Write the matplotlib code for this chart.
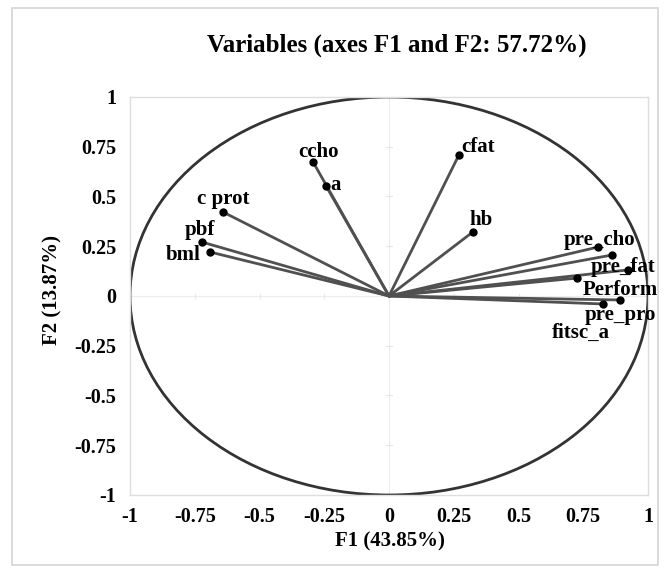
import numpy as np
import matplotlib
matplotlib.use("Agg")
import matplotlib.pyplot as plt
from matplotlib.patches import Ellipse, Rectangle

# Variable loadings on F1 / F2
variables = ["ccho", "a", "c prot", "pbf", "bml", "cfat", "hb",
             "pre_cho", "", "pre_fat", "Perform", "pre_pro", "fitsc_a"]
f1 = [-0.293, -0.243, -0.641, -0.722, -0.691, 0.270, 0.324,
      0.807, 0.861, 0.923, 0.726, 0.892, 0.826]
f2 = [0.673, 0.553, 0.422, 0.271, 0.221, 0.709, 0.322,
      0.246, 0.206, 0.131, 0.090, -0.020, -0.040]

ticks = [-1, -0.75, -0.5, -0.25, 0, 0.25, 0.5, 0.75, 1]
tick_labels = ["-1", "-0.75", "-0.5", "-0.25", "0", "0.25", "0.5", "0.75", "1"]

title = "Variables (axes F1 and F2: 57.72%)"
xlabel = "F1 (43.85%)"
ylabel = "F2 (13.87%)"

# label offsets (pixels) and alignment
label_dx = [5, 4, 0, -2, -27, 19, 8, 1, 0, -5, 43, 0, -22]
label_dy = [10, 1, 13, 12, -3, 8, 12, 7, 0, 3, -12, -15, -29]
label_ha = ["center", "left", "center", "center", "center", "center", "center",
            "center", "center", "center", "center", "center", "center"]

plt.rcParams['font.family'] = ['Liberation Serif', 'DejaVu Serif']
plt.rcParams['font.weight'] = 'bold'

fig = plt.figure(figsize=(6.66, 5.8), dpi=100)
fig.patch.set_facecolor("white")
fig.add_artist(Rectangle((12/666, 1-565/580), (658-12)/666, (565-8)/580,
                         transform=fig.transFigure, fill=False,
                         edgecolor="#d4d4d4", lw=1.2))

ax = fig.add_axes([130/666, 1-495/580, (648-130)/666, (495-97)/580])
ax.set_xlim(-1, 1)
ax.set_ylim(-1, 1)

for s in ax.spines.values():
    s.set_color("#dedede")
    s.set_linewidth(1.0)

# faint axes through origin
ax.axhline(0, color="#ececec", lw=0.8, zorder=0)
ax.axvline(0, color="#ececec", lw=0.8, zorder=0)
for t in ticks:
    if t != 0:
        ax.plot([t, t], [-0.012, 0.012], color="#e6e6e6", lw=0.8, zorder=0)
        ax.plot([-0.01, 0.01], [t, t], color="#e6e6e6", lw=0.8, zorder=0)

ax.add_patch(Ellipse((0, 0), 2, 2, fill=False, edgecolor="#333333", lw=2.0, zorder=2))

for x, y in zip(f1, f2):
    ax.plot([0, x], [0, y], color="#505050", lw=2.0, zorder=3, solid_capstyle="round")
ax.plot(f1, f2, "o", color="black", markersize=5, zorder=4)

for name, x, y, dx, dy, ha in zip(variables, f1, f2, label_dx, label_dy, label_ha):
    if name:
        ax.annotate(name, (x, y), xytext=(dx, dy), textcoords="offset pixels",
                    ha=ha, va="center", fontsize=15, fontweight="bold", zorder=5)

ax.set_xticks(ticks)
ax.set_xticklabels(tick_labels)
ax.set_yticks(ticks)
ax.set_yticklabels(tick_labels)
ax.tick_params(axis="both", length=0, labelsize=14.5)
ax.tick_params(axis="x", pad=9)
ax.tick_params(axis="y", pad=10)

fig.text(390/666, 1-541/580, xlabel, ha="center", va="center", fontsize=15, fontweight="bold")
fig.text(52/666, 1-290/580, ylabel, ha="center", va="center", rotation=90, fontsize=15, fontweight="bold")
fig.text(397/666, 1-45/580, title, ha="center", va="center", fontsize=18, fontweight="bold")

fig.savefig("out.png", dpi=100)
